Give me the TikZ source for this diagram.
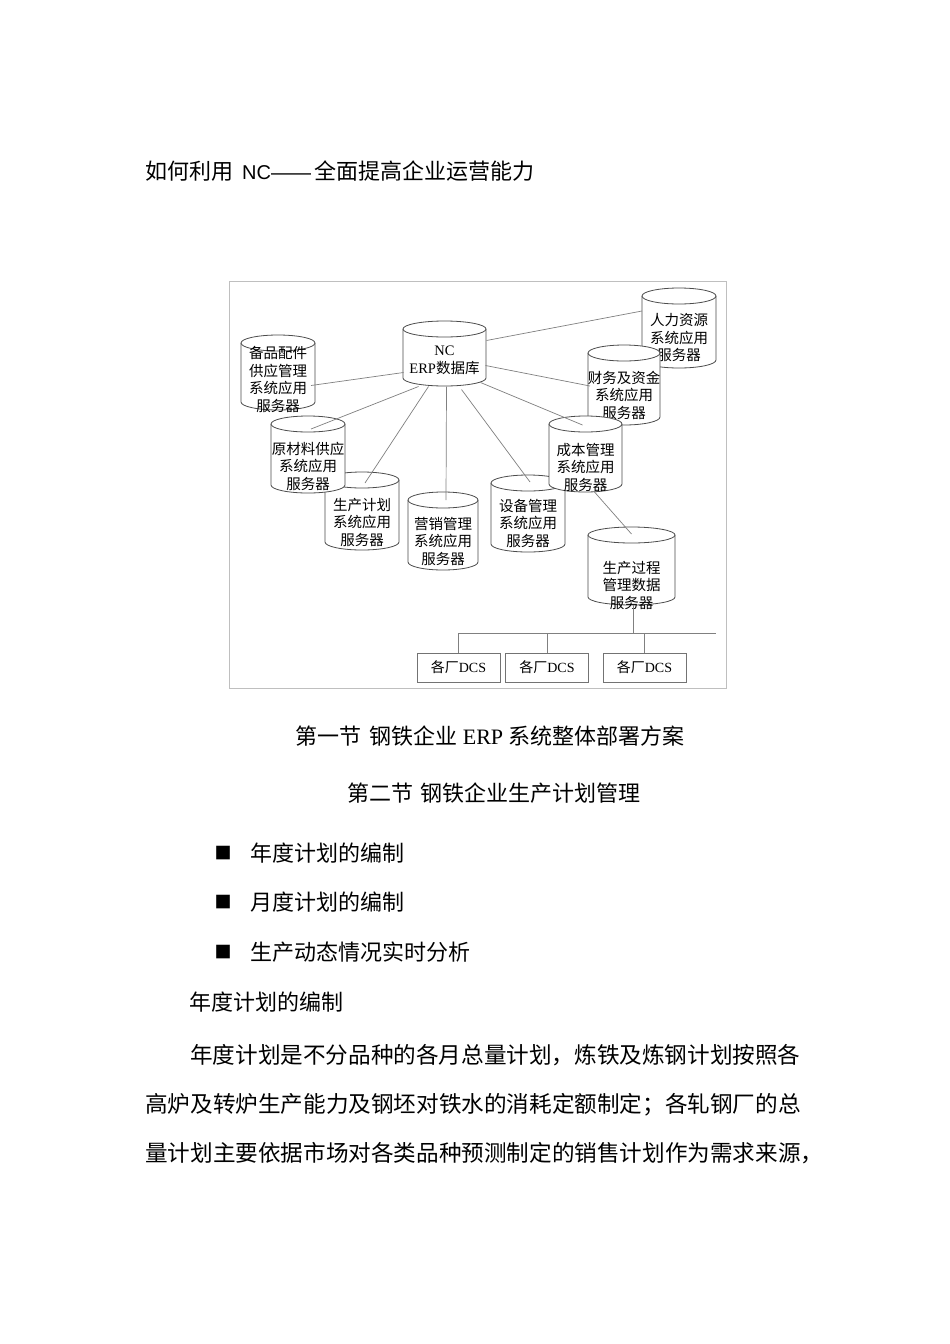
\documentclass[tikz,border=0pt]{standalone}
\usepackage{fontspec}
\setmainfont{Noto Sans CJK SC}
\newfontfamily\serifrm{Liberation Serif}
\newfontfamily\sansrm{Liberation Sans}
\newcommand{\cylry}{8}
% database cylinder: name, left, top, right, bottom, text y, text
\newcommand{\dbcyl}[7]{%
  \filldraw[cyl] (#2,#3+\cylry) -- (#2,#5-\cylry)
    arc[start angle=180, end angle=0, x radius={(#4-#2)/2}, y radius=\cylry]
    -- (#4,#3+\cylry)
    arc[start angle=0, end angle=-180, x radius={(#4-#2)/2}, y radius=\cylry] -- cycle;
  \draw[cyl] (#2,#3+\cylry)
    arc[start angle=180, end angle=0, x radius={(#4-#2)/2}, y radius=\cylry];
  \node[cyltext] (#1) at ({(#2+#4)/2},#6) {#7};
}
\begin{document}
\begin{tikzpicture}[x=1pt, y=-1pt,
    cyl/.style={draw=black!70, fill=white, line width=0.8pt},
    cyltext/.style={align=center, inner sep=0pt, font=\fontsize{14.5}{17.5}\selectfont},
    link/.style={draw=black!50, line width=0.7pt},
    dcsbox/.style={draw=black!55, line width=0.8pt, minimum width=83pt, minimum height=29pt,
      inner sep=0pt, font=\fontsize{14}{16}\selectfont},
    frame/.style={draw=black!25, line width=0.8pt},
    txt/.style={anchor=west, inner sep=0pt, font=\fontsize{22}{24}\selectfont},
    body/.style={anchor=west, inner sep=0pt, font=\fontsize{22.6}{24}\selectfont}]
    \fill[white] (0,0) rectangle (950,1344);
    \useasboundingbox (0,0) rectangle (950,1344);
    \node[txt] (title) at (145,171)
        {如何利用\hspace{9pt}{\sansrm\fontsize{20}{24}\selectfont NC——}\hspace{3pt}全面提高企业运营能力};

    \draw[frame] (229,281) rectangle (726,688);
    \dbcyl{rlzy}{642}{288}{716}{368}{338}{人力资源\\系统应用\\服务器}
    \dbcyl{cwzj}{588}{345}{660}{425}{395}{财务及资金\\系统应用\\服务器}
    \dbcyl{sbgl}{491}{475}{565}{552}{523}{设备管理\\系统应用\\服务器}
    \dbcyl{cbgl}{549}{416}{622}{492}{467}{成本管理\\系统应用\\服务器}
    \dbcyl{scjh}{325}{472}{399}{550}{522}{生产计划\\系统应用\\服务器}
    \dbcyl{ycl}{271}{416}{345}{493}{466}{原材料供应\\系统应用\\服务器}
    \dbcyl{bpj}{241}{335}{315}{410}{379.5}{备品配件\\供应管理\\系统应用\\服务器}
    \dbcyl{yxgl}{408}{492}{478}{570}{541}{营销管理\\系统应用\\服务器}
    \dbcyl{nc}{403}{321}{486}{386}{360.5}{{\serifrm NC}\\{\serifrm ERP}数据库}
    \dbcyl{scgc}{588}{527}{675}{605}{585}{生产过程\\管理数据\\服务器}

    \draw[link] ([shift={(-41,12)}]nc.center) -- ([shift={(33,6)}]bpj.center);
    \draw[link] ([shift={(-26,26)}]nc.center) -- ([shift={(3,-37)}]ycl.center);
    \draw[link] ([shift={(-16,26)}]nc.center) -- ([shift={(3,-39)}]scjh.center);
    \draw[link] ([shift={(2,26)}]nc.center) -- ([shift={(3,-41)}]yxgl.center);
    \draw[link] ([shift={(17,29)}]nc.center) -- ([shift={(2,-41)}]sbgl.center);
    \draw[link] ([shift={(36,22)}]nc.center) -- ([shift={(-3,-42)}]cbgl.center);
    \draw[link] ([shift={(41,5)}]nc.center) -- ([shift={(-34,-9)}]cwzj.center);
    \draw[link] ([shift={(42,-20)}]nc.center) -- ([shift={(-37,-27)}]rlzy.center);
    \draw[link] ([shift={(9,25)}]cbgl.center) -- ([shift={(0,-51)}]scgc.center);

    \node[dcsbox] (dcs1) at (458.5,667.5) {各厂{\serifrm DCS}};
    \node[dcsbox] (dcs2) at (547,667.5) {各厂{\serifrm DCS}};
    \node[dcsbox] (dcs3) at (644.5,667.5) {各厂{\serifrm DCS}};
    \coordinate (busr) at (716,633);
    \coordinate (scgcb) at ([shift={(1.5,20)}]scgc.center);
    \draw[link] (dcs1.north |- busr) -- (busr);
    \draw[link] (scgcb) -- (scgcb |- busr);
    \foreach \b in {dcs1,dcs2,dcs3}
        \draw[link] (\b.north) -- (\b.north |- busr);

    \node[txt, anchor=center] (sec1) at (490,736) {第一节\hspace{8pt}钢铁企业 {\serifrm ERP} 系统整体部署方案};
    \node[txt, anchor=center] (sec2) at (494,793) {第二节\hspace{8pt}钢铁企业生产计划管理};
    \foreach \i/\t/\y in {1/年度计划的编制/853, 2/月度计划的编制/902, 3/生产动态情况实时分析/952} {
        \node[txt, anchor=center, font=\fontsize{17}{18}\selectfont] (bul\i) at (223,\y) {■};
        \node[txt] (item\i) at (250,\y) {\t};
    }
    \node[txt] (sub) at (189,1002) {年度计划的编制};
    \node[body] (para1) at (190,1055) {年度计划是不分品种的各月总量计划，炼铁及炼钢计划按照各};
    \node[body] (para2) at (145,1105) {高炉及转炉生产能力及钢坯对铁水的消耗定额制定；各轧钢厂的总};
    \node[body] (para3) at (145,1153) {量计划主要依据市场对各类品种预测制定的销售计划作为需求来源，};
\end{tikzpicture}
\end{document}
